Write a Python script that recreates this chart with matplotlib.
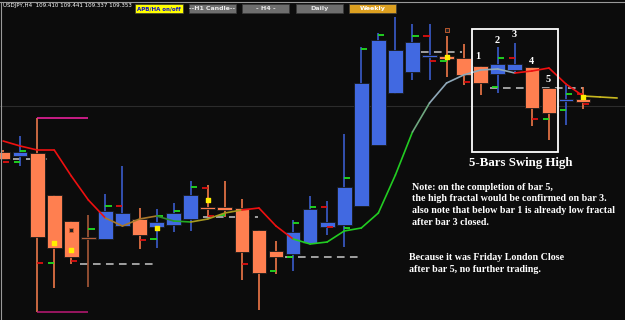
import numpy as np
import matplotlib.pyplot as plt

# USDJPY H4 candles (APB/HA style)
opens  = [109.240, 109.220, 109.235, 109.025, 108.895, 108.805, 108.805, 108.870, 108.905, 108.865,
          108.875, 108.905, 108.965, 108.965, 108.960, 108.850, 108.745, 108.730, 108.785, 108.865,
          108.875, 108.970, 109.275, 109.535, 109.640, 109.715, 109.720, 109.710, 109.670, 109.630,
          109.650, 109.665, 109.560, 109.495, 109.505]
highs  = [109.250, 109.320, 109.235, 109.025, 108.895, 108.925, 109.030, 109.170, 108.960, 108.955,
          108.985, 109.095, 109.075, 109.095, 109.005, 108.850, 108.795, 108.900, 109.020, 108.995,
          109.330, 109.765, 109.835, 109.915, 109.880, 109.880, 109.820, 109.780, 109.670, 109.765,
          109.785, 109.665, 109.560, 109.575, 109.565]
lows   = [109.200, 109.170, 108.815, 108.560, 108.680, 108.565, 108.805, 108.865, 108.755, 108.760,
          108.840, 108.845, 108.915, 108.915, 108.600, 108.450, 108.630, 108.645, 108.785, 108.825,
          108.765, 108.970, 109.275, 109.530, 109.600, 109.600, 109.615, 109.575, 109.525, 109.535,
          109.635, 109.370, 109.300, 109.375, 109.455]
closes = [109.205, 109.240, 108.815, 108.760, 108.715, 108.805, 108.945, 108.935, 108.825, 108.890,
          108.935, 109.025, 108.955, 108.950, 108.740, 108.635, 108.715, 108.840, 108.955, 108.890,
          109.065, 109.585, 109.800, 109.750, 109.790, 109.725, 109.705, 109.625, 109.585, 109.680,
          109.680, 109.460, 109.435, 109.505, 109.490]

# coloured moving average (shifted 2 bars forward)
ma = [109.295, 109.270, 109.250, 109.250, 109.120, 109.000, 108.910, 108.870, 108.905, 108.920,
      108.895, 108.890, 108.905, 108.935, 108.950, 108.960, 108.870, 108.805, 108.780, 108.790,
      108.845, 108.860, 108.935, 109.125, 109.340, 109.485, 109.585, 109.625, 109.650, 109.655,
      109.635, 109.645, 109.660, 109.580, 109.520, 109.515, 109.510]
ma_colors = (['#ee1010'] * 6 + ['#a8782a'] * 3 + ['#2e8b2e', '#22aa22'] + ['#a89a20'] * 3 +
             ['#ee1010'] * 3 + ['#22cc22'] * 7 + ['#6fa880'] + ['#8fa8b8'] * 5 +
             ['#ee1010'] * 4 + ['#c8b820'] * 2)

# fractal ticks: bar index, side (-1 left / +1 right), price, colour
frac_idx = [1, 1, 0, 2, 3, 4, 5, 6, 7, 8, 9, 9, 10, 11, 12, 12, 13, 14, 16, 17, 17, 18, 19, 19,
            20, 20, 21, 22, 24, 25, 25, 26, 27, 29, 29, 30, 31, 32, 33, 33, 34, 34]
frac_side = [1, -1, 1, 1, -1, 1, 1, 1, -1, 1, -1, 1, 1, 1, -1, 1, -1, 1, -1, 1, -1, 1, -1, 1,
             1, 1, 1, 1, 1, -1, 1, -1, 1, 1, -1, -1, 1, -1, 1, -1, -1, 1]
frac_price = [109.245, 109.190, 109.190, 108.685, 108.685, 108.695, 108.855, 108.970, 108.970,
              108.800, 108.805, 108.920, 108.945, 109.065, 109.060, 108.920, 108.925, 108.680,
              108.645, 108.885, 108.715, 108.965, 108.965, 108.865, 108.860, 109.110, 109.755,
              109.825, 109.820, 109.820, 109.695, 109.695, 109.590, 109.710, 109.565, 109.710,
              109.405, 109.405, 109.530, 109.450, 109.530, 109.480]
frac_col = ['g', 'g', 'r', 'r', 'g', 'r', 'g', 'g', 'r', 'r', 'g', 'g', 'g', 'g', 'r', 'r', 'g',
            'r', 'g', 'g', 'g', 'g', 'r', 'r', 'g', 'g', 'g', 'g', 'g', 'r', 'r', 'g', 'r', 'g',
            'g', 'r', 'r', 'g', 'g', 'g', 'r', 'r']

# dashed swing levels: start index, end index, price
lvl_start = [-0.2, 4.5, 10.96, 16.5, 23.0, 28.55]
lvl_end = [2.76, 8.97, 14.95, 20.9, 26.9, 34.0]
lvl_price = [109.205, 108.680, 108.915, 108.715, 109.740, 109.560]

dot_idx = [3, 4, 9, 12, 26, 34]
dot_price = [108.785, 108.750, 108.860, 109.000, 109.715, 109.515]

bar_labels = ['1', '2', '3', '4', '5']
bar_label_idx = [27.84, 28.96, 29.95, 30.95, 31.95]
bar_label_price = [109.715, 109.795, 109.825, 109.690, 109.600]

bg = '#0c0c0c'
fig = plt.figure(figsize=(6.25, 3.2), dpi=100, facecolor=bg)
ax = fig.add_axes([0, 0, 1, 1], facecolor=bg)
ax.set_xlim(-0.18, 36.46)
ax.set_ylim(108.40, 110.00)
ax.axis('off')

# faint grid / bid line and frame
ax.axhline(109.47, color='#2c2c2c', lw=0.8)
fig.add_artist(plt.Line2D([0, 1], [0.994, 0.994], color='#9a9a9a', lw=0.8))
fig.add_artist(plt.Line2D([0.002, 0.002], [0, 0.994], color='#9a9a9a', lw=0.8))

# bracket drawn on bar 2
ax.vlines(2, 108.44, 109.41, color='#e8784a', lw=1.2, zorder=2)
ax.hlines(109.41, 2, 4.98, color='#e8209a', lw=1.2)
ax.hlines(108.44, 2, 4.98, color='#b0186e', lw=1.2)

# swing levels
for a, b, p in zip(lvl_start, lvl_end, lvl_price):
    ax.hlines(p, a, b, color='#c8c8c8', lw=1.1, linestyles=(0, (5, 3.5)), zorder=2)

# candles
x = np.arange(len(opens))
for i in x:
    o, h, l, c = opens[i], highs[i], lows[i], closes[i]
    if c > o:
        body, wick = '#4169e1', '#3a5ccc'
    elif c < o:
        body, wick = '#ff7f50', '#f07848'
    else:
        body, wick = '#b4603c', '#a85838'
    ax.vlines(i, l, h, color=wick, lw=1.2, zorder=3)
    bot = min(o, c)
    hgt = max(abs(c - o), 0.009)
    ax.bar(i, hgt, bottom=bot, width=0.86, color=body, edgecolor='#1a1a1a',
           linewidth=0.6, zorder=4)

# fractal ticks
for i, s, p, col in zip(frac_idx, frac_side, frac_price, frac_col):
    c = '#22dd22' if col == 'g' else '#dd1010'
    ax.hlines(p, i, i + 0.36 * s, color=c, lw=1.3, zorder=5)

# moving average
for k in range(len(ma) - 1):
    ax.plot([k, k + 1], [ma[k], ma[k + 1]], color=ma_colors[k], lw=1.2, zorder=6,
            solid_capstyle='round')

ax.scatter(dot_idx, dot_price, s=6, marker='s', color='#ffee00', zorder=7)
ax.scatter([4, 26], [108.85, 109.85], s=7, marker='s', facecolor='#222222',
           edgecolor='#d06030', lw=0.6, zorder=7)

# 5-bar swing box
ax.add_patch(plt.Rectangle((27.49, 109.24), 5.04, 0.615, fill=False, edgecolor='white',
                           lw=1.3, zorder=8))
for t, xi, p in zip(bar_labels, bar_label_idx, bar_label_price):
    ax.text(xi, p, t, color='white', fontsize=7.5, fontweight='bold',
            family='Liberation Serif', ha='center', va='center', zorder=9)

serif = dict(color='white', fontweight='bold', family='Liberation Serif')
fig.text(521 / 625, 1 - 163 / 320, '5-Bars Swing High', fontsize=9.3, ha='center',
         va='center', **serif)
note = ['Note: on the completion of bar 5,',
        'the high fractal would be confirmed on bar 3.',
        'also note that below bar 1 is already low fractal',
        'after bar 3 closed.']
for k, line in enumerate(note):
    fig.text(412 / 625, 1 - (187 + 11.7 * k) / 320, line, fontsize=7.2, ha='left',
             va='center', **serif)
fig.text(409 / 625, 1 - 258 / 320, 'Because it was Friday London Close', fontsize=7.2,
         ha='left', va='center', **serif)
fig.text(409 / 625, 1 - 269 / 320, 'after bar 5, no further trading.', fontsize=7.2,
         ha='left', va='center', **serif)

# header
fig.text(3 / 625, 1 - 5.5 / 320, 'USDJPY,H4  109.410 109.441 109.337 109.353', fontsize=4,
         color='white', ha='left', va='center')
btn_text = ['APB/HA on/off', '--H1 Candle--', '- H4 -', 'Daily', 'Weekly']
btn_left = [135, 189, 242, 296, 349]
btn_right = [183, 236, 289, 343, 396]
btn_face = ['#ffff00', '#6e6e6e', '#6e6e6e', '#6e6e6e', '#dda020']
btn_fg = ['#1010d0', '#e8e8e8', '#e8e8e8', '#e8e8e8', '#ffffff']
btn_size = [4.0, 4.5, 4.6, 4.6, 4.6]
for t, l, r, fc, tc, fs in zip(btn_text, btn_left, btn_right, btn_face, btn_fg, btn_size):
    fig.add_artist(plt.Rectangle((l / 625, 1 - 13 / 320), (r - l) / 625, 9 / 320,
                                 facecolor=fc, edgecolor='#3a3a3a', lw=0.5))
    fig.text((l + r) / 2 / 625, 1 - 8.7 / 320, t, fontsize=fs, fontweight='bold',
             color=tc, ha='center', va='center')

fig.savefig('out.png', dpi=100, facecolor=bg)
